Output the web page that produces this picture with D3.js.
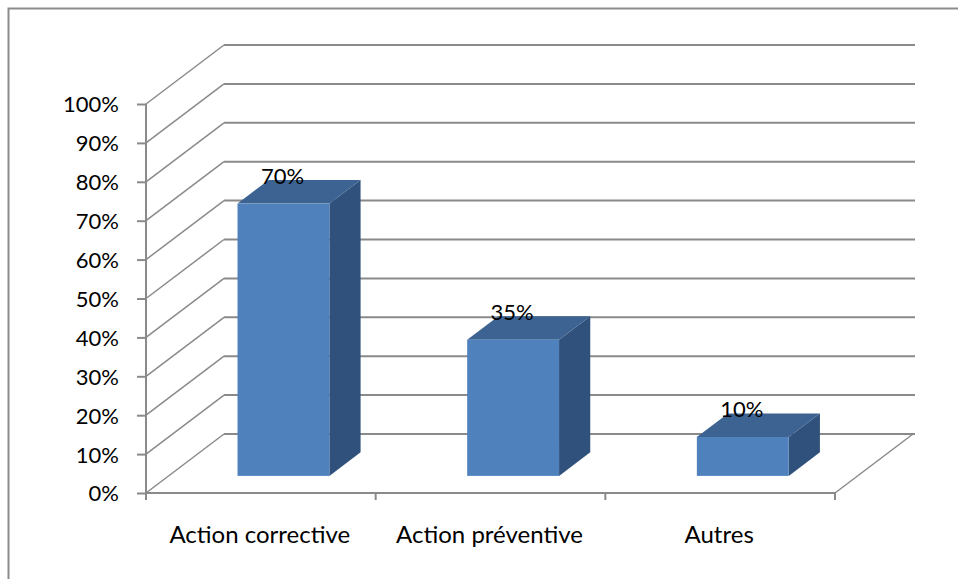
<!DOCTYPE html>
<html>
<head>
<meta charset="utf-8">
<script src="https://cdn.jsdelivr.net/npm/d3@7"></script>
<style>
  html, body { margin: 0; padding: 0; background: #ffffff; }
  svg { display: block; }
  text { font-family: Lato, "Open Sans", sans-serif; fill: #000; }
</style>
</head>
<body>
<svg id="chart" width="958" height="579"></svg>
<script>
// Chart data
const categories = ["Action corrective", "Action préventive", "Autres"];
const values = [0.70, 0.35, 0.10];
const valueLabels = ["70%", "35%", "10%"];
const yTicks = [0, 0.1, 0.2, 0.3, 0.4, 0.5, 0.6, 0.7, 0.8, 0.9, 1.0];

const W = 958, H = 579;
const svg = d3.select("#chart");

// Oblique projection for the 3D look: depth d in [0,1] shifts right and up
const depthDX = 78, depthDY = -59;
const proj = (x, y, d) => [x + d * depthDX, y + d * depthDY];

const x = d3.scaleBand().domain(categories).range([146, 835])
  .paddingInner(0.6).paddingOuter(0.3);
const y = d3.scaleLinear().domain([0, 1]).range([493, 104]);
const fmt = d3.format(".0%");

const gridColor = "#8a8a8a";
const x0 = 146, x1 = 835;
const barD0 = 0.29, barD1 = 0.69;

// Chart area border
svg.append("rect")
  .attr("x", 8.5).attr("y", 8.5)
  .attr("width", W + 20).attr("height", H + 20)
  .attr("fill", "none").attr("stroke", "#8c8c8c").attr("stroke-width", 2);

// Back wall gridlines
const back = svg.append("g");
back.selectAll("line.grid").data(yTicks).join("line")
  .attr("class", "grid")
  .attr("x1", x0 + depthDX).attr("x2", x1 + depthDX + 2)
  .attr("y1", d => y(d) + depthDY).attr("y2", d => y(d) + depthDY)
  .attr("stroke", gridColor).attr("stroke-width", 2);

// Side wall diagonals
back.selectAll("line.diag").data(yTicks).join("line")
  .attr("class", "diag")
  .attr("x1", x0).attr("y1", d => y(d))
  .attr("x2", x0 + depthDX).attr("y2", d => y(d) + depthDY)
  .attr("stroke", gridColor).attr("stroke-width", 1.5);

// Floor right edge
back.append("line")
  .attr("x1", x1).attr("y1", y(0))
  .attr("x2", x1 + depthDX).attr("y2", y(0) + depthDY)
  .attr("stroke", gridColor).attr("stroke-width", 1.5);

// Bars
const bars = svg.append("g");
const pts = a => a.map(p => p.join(",")).join(" ");
categories.forEach((c, i) => {
  const xl = x(c), xr = x(c) + x.bandwidth();
  const v = values[i];
  const g = bars.append("g");
  // side face
  g.append("polygon").attr("points", pts([
    proj(xr, y(0), barD0), proj(xr, y(0), barD1),
    proj(xr, y(v), barD1), proj(xr, y(v), barD0)]))
    .attr("fill", "#30517b");
  // top face
  g.append("polygon").attr("points", pts([
    proj(xl, y(v), barD0), proj(xr, y(v), barD0),
    proj(xr, y(v), barD1), proj(xl, y(v), barD1)]))
    .attr("fill", "#3c6391");
  // front face
  const f0 = proj(xl, y(v), barD0), f1 = proj(xr, y(0), barD0);
  g.append("rect")
    .attr("x", f0[0]).attr("y", f0[1])
    .attr("width", f1[0] - f0[0]).attr("height", f1[1] - f0[1])
    .attr("fill", "#4f81bd");
});

// Value labels
svg.append("g").selectAll("text").data(values).join("text")
  .attr("x", (d, i) => proj(x(categories[i]) + x.bandwidth() / 2, 0, barD0)[0] - 1)
  .attr("y", d => y(d) + barD1 * depthDY + 4)
  .attr("text-anchor", "middle")
  .attr("font-size", 22)
  .text((d, i) => valueLabels[i]);

// Value axis
const yAxis = svg.append("g").attr("transform", `translate(${x0},0)`)
  .call(d3.axisLeft(y).tickValues(yTicks).tickFormat(fmt).tickSize(9).tickPadding(18));
yAxis.select(".domain").attr("stroke", gridColor).attr("stroke-width", 2)
  .attr("d", `M0,${y(1)}V${y(0) + 7}`);
yAxis.selectAll(".tick line").attr("stroke", gridColor).attr("stroke-width", 2);
yAxis.selectAll(".tick text")
  .attr("font-size", 22).attr("font-family", "Lato, sans-serif").attr("fill", "#000")
  .attr("dy", "0.36em");

// Category axis along the floor front edge
const xAxisScale = d3.scalePoint().domain(d3.range(categories.length + 1)).range([x0, x1]);
const xAxis = svg.append("g").attr("transform", `translate(0,${y(0)})`);
xAxis.append("line").attr("x1", x0).attr("x2", x1)
  .attr("stroke", gridColor).attr("stroke-width", 2);
xAxis.selectAll("line.tick").data(xAxisScale.domain()).join("line")
  .attr("class", "tick")
  .attr("x1", d => xAxisScale(d)).attr("x2", d => xAxisScale(d))
  .attr("y1", 0).attr("y2", 7)
  .attr("stroke", gridColor).attr("stroke-width", 2);
xAxis.selectAll("text").data(categories).join("text")
  .attr("x", d => x(d) + x.bandwidth() / 2 - 1)
  .attr("y", 50)
  .attr("text-anchor", "middle")
  .attr("font-size", 24)
  .text(d => d);
</script>
</body>
</html>
